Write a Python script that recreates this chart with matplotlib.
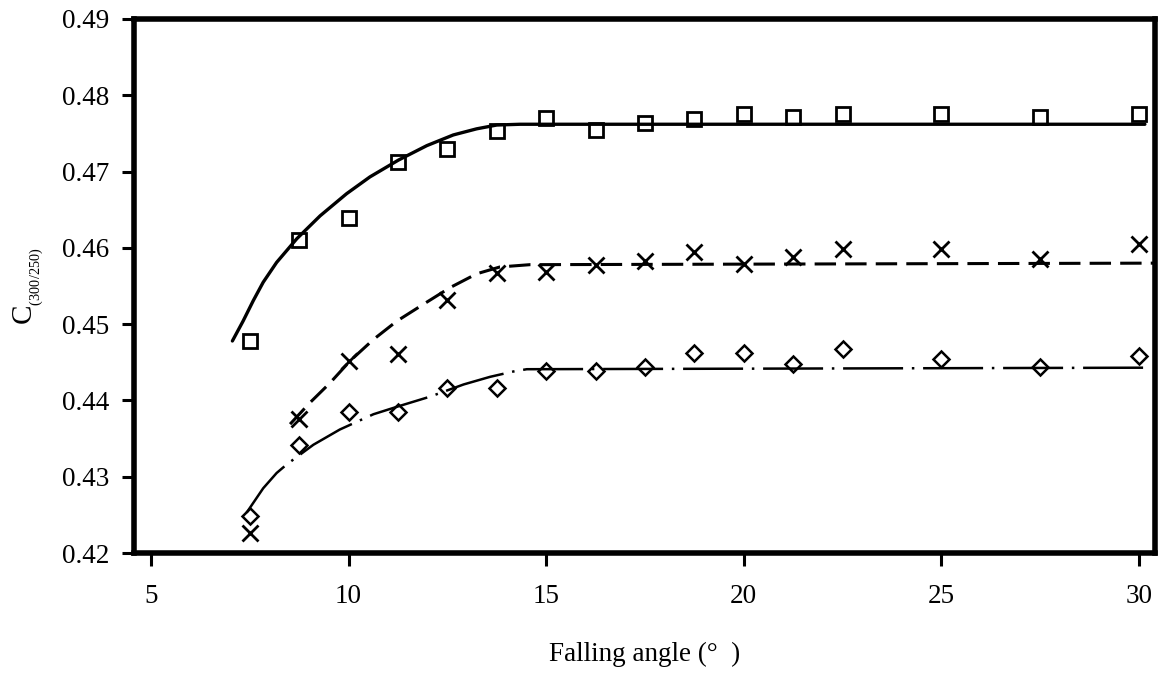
import matplotlib
matplotlib.use("Agg")
import matplotlib.pyplot as plt

plt.rcParams['font.family'] = ['Liberation Serif', 'DejaVu Serif']
plt.rcParams['mathtext.fontset'] = 'custom'
plt.rcParams['mathtext.rm'] = 'Liberation Serif'

# Measured points
angles = [7.5, 8.75, 10, 11.25, 12.5, 13.75, 15, 16.25, 17.5, 18.75, 20, 21.25, 22.5, 25, 27.5, 30]
square_vals = [0.4478, 0.4610, 0.4639, 0.4713, 0.4729, 0.4753, 0.4770, 0.4754, 0.4763, 0.4769,
               0.4775, 0.4772, 0.4775, 0.4775, 0.4772, 0.4775]
cross_vals = [0.4226, 0.4376, 0.4452, 0.4461, 0.4532, 0.4567, 0.4568, 0.4577, 0.4583, 0.4594,
              0.4579, 0.4588, 0.4599, 0.4599, 0.4586, 0.4605]
diamond_vals = [0.4248, 0.4342, 0.4385, 0.4385, 0.4416, 0.4416, 0.4438, 0.4438, 0.4444, 0.4462,
                0.4462, 0.4448, 0.4467, 0.4454, 0.4444, 0.4458]

# Fitted curves
fit_sq_x = [7.06, 7.33, 7.59, 7.84, 8.18, 8.69, 9.28, 9.95, 10.54, 11.26, 11.98, 12.65,
            13.24, 13.75, 14.34, 30.15]
fit_sq_y = [0.4478, 0.4504, 0.4531, 0.4555, 0.4581, 0.4612, 0.4642, 0.4671, 0.4693, 0.4715,
            0.4734, 0.4748, 0.4756, 0.4761, 0.4762, 0.4762]
fit_cr_x = [8.52, 9.02, 9.53, 10.04, 10.63, 11.22, 11.89, 12.57, 13.24, 13.83, 14.59, 30.4]
fit_cr_y = [0.4369, 0.4397, 0.4423, 0.4452, 0.4480, 0.4504, 0.4526, 0.4548, 0.4566, 0.4575,
            0.4578, 0.4580]
fit_di_x = [7.42, 7.84, 8.18, 8.43, 9.11, 9.78, 10.63, 11.30, 12.06, 12.91, 13.58, 14.17,
            14.51, 30.3]
fit_di_y = [0.4253, 0.4285, 0.4305, 0.4316, 0.4342, 0.4362, 0.4382, 0.4393, 0.4405, 0.4421,
            0.4431, 0.4438, 0.4441, 0.4443]

xticks = [5, 10, 15, 20, 25, 30]
yticks = [0.42, 0.43, 0.44, 0.45, 0.46, 0.47, 0.48, 0.49]

fig = plt.figure(figsize=(11.6, 6.77), dpi=100)
ax = fig.add_axes([0.1155, 0.183, 0.880, 0.789])

ax.plot(fit_sq_x, fit_sq_y, color='black', lw=2.4, solid_capstyle='round', solid_joinstyle='round')
ax.plot(fit_cr_x, fit_cr_y, color='black', lw=2.2, dashes=(7, 3))
ax.plot(fit_di_x, fit_di_y, color='black', lw=1.8, dashes=(24, 3.5, 1, 3.5))

ax.plot(angles, square_vals, ls='none', marker='s', ms=10.5, mfc='none', mec='black', mew=2)
ax.plot(angles, cross_vals, ls='none', marker='x', ms=11, mec='black', mew=2)
ax.plot(angles, diamond_vals, ls='none', marker='D', ms=8.5, mfc='none', mec='black', mew=1.8)

ax.set_xlim(4.57, 30.4)
ax.set_ylim(0.42, 0.49)
ax.set_xticks(xticks)
ax.set_xticklabels([str(v) for v in xticks])
ax.set_yticks(yticks)
ax.set_yticklabels([f"{v:.2f}" for v in yticks])

for s in ax.spines.values():
    s.set_linewidth(4)
ax.tick_params(axis='both', direction='out', length=9, width=2.2, labelsize=19.5, colors='black')
ax.tick_params(axis='y', pad=9)
ax.tick_params(axis='x', pad=13)

ax.set_xlabel('Falling angle (°  )', fontsize=19.5)
ax.xaxis.set_label_coords(0.5, -0.166)
ax.set_ylabel(r'C$_{{}_{\mathrm{(300/250)}}}$', fontsize=21)
ax.yaxis.set_label_coords(-0.086, 0.5)

fig.savefig('out.png', dpi=100, facecolor='white')
